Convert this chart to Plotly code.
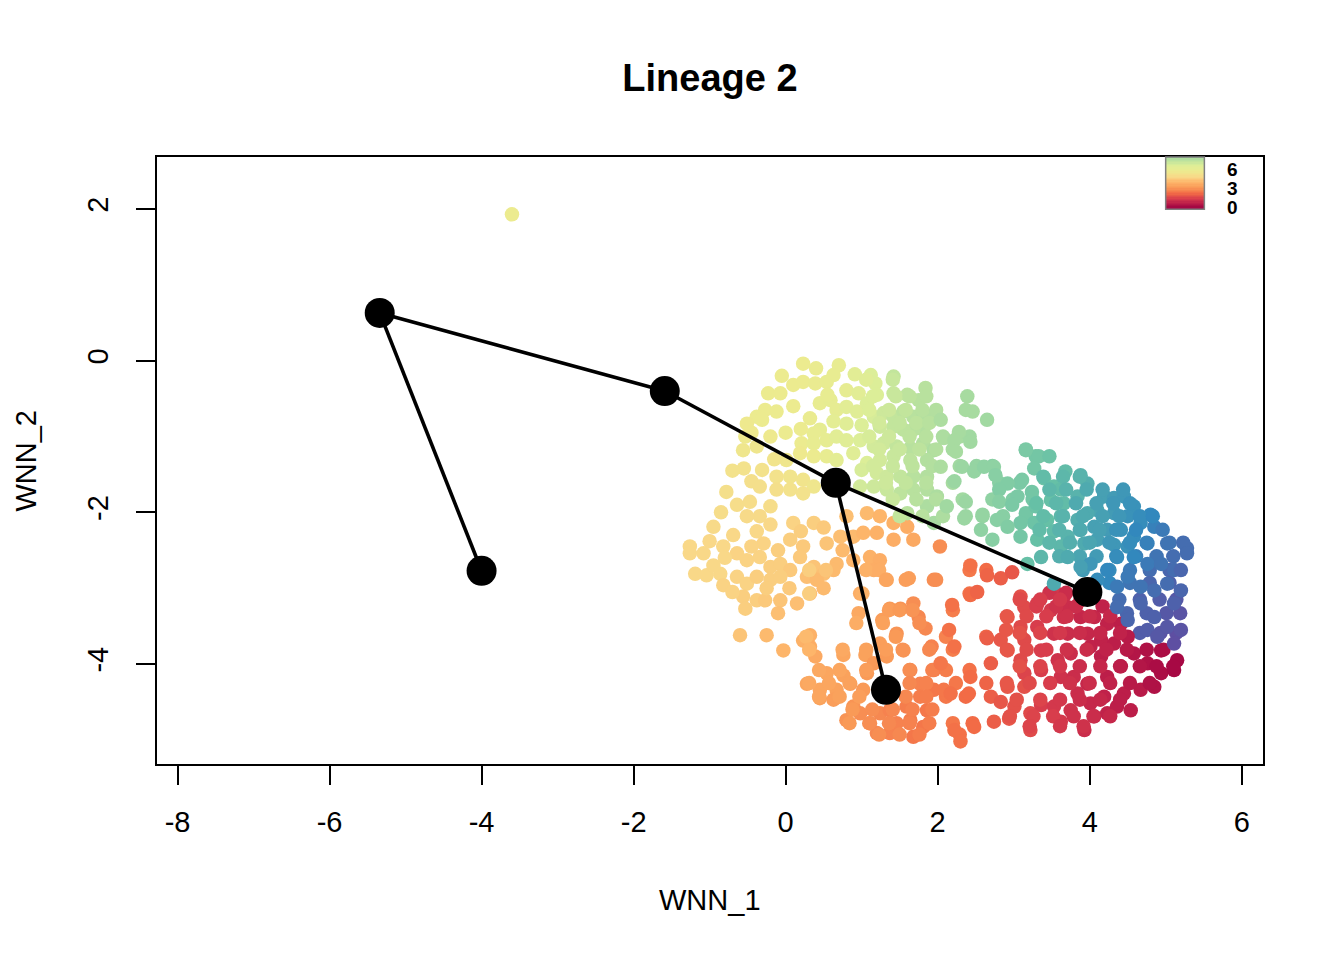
import numpy as np
import plotly.graph_objects as go

# cells: WNN_1, WNN_2 and the colour value (pseudotime-like)
cell_x = [
    # upper yellow / light green part
    0.23, 0.70, 0.91, 1.12, 1.42, 1.84, -0.23, -0.07, 0.10, 0.23, 0.39, 0.54, 0.63, 0.80, 0.96, 1.18, 1.20, 1.42, 1.60, 1.75,
    -0.27, -0.12, -0.38, -0.51, -0.31, 0.32, 0.45, 0.59, 0.67, 0.80, 0.94, 1.07, 1.16, 1.29, 1.42, 1.55, 1.68, 1.81, 1.95,
    1.81, 1.68, 1.55, 1.42, 1.24, 1.00, 0.80, 0.63, 0.45, 0.37, -0.53, -0.56, -0.38, 0.21, 0.37, 0.54, 0.67, 0.80, 0.98,
    1.16, 1.29, 1.46, 1.64, 1.81, 1.95, 0.01, 0.19, 0.37, 0.54, 0.67, 0.89, 1.07, 1.24, 1.42, 1.64, 1.86,
    -0.31, -0.45, -0.12, 0.06, 0.23, 0.37, -0.78, -0.34, -0.12, 0.06, 0.23, 1.00, 1.20, 1.33, 1.51, 1.68, 1.86,
    0.98, 1.16, 1.33, 1.51, 1.68, 1.86, 1.99, -0.64, -0.47, -0.20, -0.34, -0.51, -0.95, -0.69, -0.38, -0.20, 0.10, 0.37,
    1.07, 1.24, 1.42, 1.60, 1.60, 1.86, 1.95, -1.26, -1.00, -0.82, -0.29, 0.06, 0.23, 0.54, 0.72, 0.89, 1.02, 1.20, 1.42, 1.68, 2.03,
    -0.45, -0.20, 0.00, 0.10, -0.05, 0.40, 0.55, 0.20, -0.15, -0.55, -0.70, -0.85,
    1.06, 1.41, 1.15, 1.45, 1.63, 1.85, 1.10, 1.36, 1.58, 1.80, 1.98, 1.23, 1.50, 1.72, 1.89,
    1.10, 1.36, 1.63, 1.85, 2.07, 2.29, 2.42, 1.23, 1.50, 1.76, 1.98, 2.20, 1.15, 1.41, 1.67, 1.93, 2.29, 2.51, 2.72,
    1.32, 1.58, 1.85, 2.20, 2.81, 3.08, 1.41, 1.72, 1.98, 2.33, 2.72, 2.99, 3.25, 1.50, 1.80, 2.07, 2.37, 2.59, 2.86, 3.16,
    3.29, 3.16,
    # lower orange part
    -1.26, -1.08, -0.64, -0.51, -0.34, -0.20, -0.07, 0.06, 0.19, 0.37, 0.50, 0.67, 0.89, 1.11, 1.24, 1.16,
    -1.19, -1.04, -0.86, -0.82, -0.64, -0.51, -0.38, -0.20, -0.07, -0.56, -0.38, -0.53, -0.27, -0.07, -0.10, 0.15, 0.32,
    0.28, 0.41, 0.63, 0.98, 1.33, 1.62, 1.95, 1.37, 1.51, 1.68, 1.75, 1.84, 0.96, 1.27, 1.46, 1.92,
    -0.60, -0.25, -0.03, 0.23, 0.32, 0.32, 0.39, 0.76, 1.05, 1.24, 1.33, 1.55, 1.64, 1.77, 1.95,
    0.28, 0.45, 0.54, 0.76, 0.67, 0.45, 0.63, 0.85, 1.02, 1.07, 1.16, 0.89, 0.80, 0.98, 1.11, 1.24, 1.37, 1.46,
    1.59, 1.64, 1.68, 1.81, 1.86, 1.95, 1.77, 1.20, 1.37,
    -0.80, -0.45, -0.10, 0.20, 0.50, -0.95, -0.25, 0.05, -0.70, 0.50, 0.75, 0.80,
    0.31, 0.53, 1.06, 1.23, 2.42, 2.64, 1.32, 1.58, 1.98, 0.31, 1.01, 2.42, 1.36, 1.50, 1.67, 2.20, 0.93, 1.28, 1.76,
    0.27, 1.45, 2.11, 2.64, 0.31, 0.75, 1.06, 1.32, 1.54, 1.89, 2.20, 0.44, 0.71, 1.06, 1.63, 1.93, 2.11, 2.42,
    0.31, 0.57, 0.84, 1.63, 1.85, 2.24, 2.64, 0.44, 0.71, 0.97, 1.58, 1.85, 2.11, 2.37, 0.88, 1.14, 1.41, 1.67, 1.93,
    0.84, 1.10, 1.36, 1.63, 1.89, 2.20, 2.46, 1.23, 1.50, 1.76, 2.29,
    # green / teal / blue part
    2.39, 2.37, 2.46, 2.65, 2.28, 2.08, 2.22, 2.43, 2.24, 2.04, 2.04, 2.32, 2.22, 2.48, 2.61, 2.74, 2.76,
    3.16, 3.33, 3.47, 3.27, 3.11, 2.92, 2.81, 3.68, 3.88, 3.97, 3.40, 3.53, 3.62, 3.24, 3.05, 2.81, 2.37, 2.12,
    2.35, 2.59, 2.78, 2.98, 3.16, 3.29, 3.49, 3.66, 3.84, 4.19, 4.32, 4.45, 4.58, 4.80, 4.85, 4.67, 4.50, 4.32,
    4.10, 3.97, 3.84, 3.62, 3.44, 3.27, 3.09, 2.92, 2.57, 2.72, 3.09, 3.31, 3.53, 3.71, 3.88, 4.06, 4.23, 4.41,
    4.58, 4.76, 5.02, 5.28, 3.62, 3.93, 4.10, 4.32, 4.50,
    3.39, 3.65, 3.87, 3.47, 3.69, 3.96, 4.17, 4.44, 3.30, 3.56, 3.82, 4.09, 4.31, 4.53,
    3.39, 3.65, 3.91, 4.17, 4.39, 4.66, 4.83, 3.34, 3.60, 3.87, 4.13, 4.35, 4.61, 4.96,
    3.47, 3.74, 4.00, 4.26, 4.53, 4.75, 5.05, 5.23, 3.60, 3.87, 4.09, 4.35, 4.61, 4.88, 5.10,
    3.91, 4.26, 4.53, 4.79, 5.05, 4.26, 4.53, 4.79, 5.05, 4.39, 4.66, 4.92, 5.14,
    4.49, 4.75, 5.01, 5.19, 4.66, 4.93, 5.14,
    # lower right red / crimson part
    2.43, 2.65, 2.83, 2.98, 2.43, 2.52, 2.19, 2.15, 2.22, 2.04, 2.08, 2.17, 2.43, 2.41, 2.22, 2.30, 2.48, 2.74,
    2.94, 3.22, 2.70, 2.83, 2.92, 3.14, 3.01, 3.22, 2.70, 2.92, 2.65, 2.83, 2.92, 2.90, 3.09, 3.14, 3.09, 3.14,
    3.09, 3.14, 3.36, 3.36, 3.31, 3.31, 3.53, 3.66, 3.49, 3.66, 3.53, 3.71, 3.58, 3.75, 3.62, 3.79, 3.36, 3.53,
    3.62, 3.75, 3.93, 3.84, 3.97, 4.06, 4.23, 4.01, 4.19, 4.36, 4.54, 4.45, 4.67, 4.85, 4.94, 5.11, 5.15, 4.94,
    4.76, 4.58, 4.41, 4.23, 4.15, 4.01, 3.97, 4.15, 4.32, 4.50, 3.88, 4.06, 4.23, 4.41, 3.88, 3.71,
    3.47, 3.69, 3.30, 3.56, 3.82, 4.17,
    3.08, 3.35, 3.61, 2.91, 3.17, 3.43, 3.70, 4.00, 4.27, 3.08, 3.35, 3.61, 3.87, 4.14, 4.40,
    2.91, 3.17, 3.43, 3.70, 3.96, 4.22, 4.49, 4.75, 4.97, 3.08, 3.35, 3.61, 3.87, 4.14, 4.40, 4.66, 4.88, 5.10,
    2.91, 3.21, 3.48, 3.74, 4.00, 4.27, 4.53, 4.79, 3.04, 3.35, 3.61, 3.87, 4.14, 4.40,
    2.95, 3.26, 3.52, 3.79, 4.05, 4.27, 3.21, 3.61, 3.92,
    # blue / purple edge
    4.36, 4.50, 4.67, 4.85, 4.76, 5.02, 5.20, 5.11, 4.89, 5.11, 5.20, 5.02, 4.85, 4.67, 4.50, 4.36, 4.23, 4.10,
    4.01, 3.88, 3.71, 3.53, 3.36, 3.18, 4.36, 4.58, 4.76, 4.94, 5.11, 5.28, 5.20,
    # stray cell
    -3.60,
]
cell_y = [
    -0.04, -0.06, -0.18, -0.19, -0.21, -0.36, -0.43, -0.43, -0.32, -0.28, -0.30, -0.28, -0.19, -0.39, -0.43, -0.30, -0.45, -0.43, -0.45, -0.52,
    -0.65, -0.67, -0.74, -0.83, -0.78, -0.76, -0.56, -0.52, -0.65, -0.61, -0.67, -0.56, -0.74, -0.69, -0.74, -0.67, -0.74, -0.69, -0.74,
    -0.91, -0.91, -0.91, -0.87, -0.87, -0.85, -0.83, -0.80, -0.91, -0.96, -1.00, -1.18, -1.13, -1.09, -1.09, -1.05, -1.00, -1.05, -1.05,
    -1.13, -1.09, -1.13, -1.15, -1.09, -1.18, -1.31, -1.22, -1.26, -1.26, -1.31, -1.22, -1.35, -1.31, -1.26, -1.31, -1.31,
    -1.44, -1.59, -1.53, -1.53, -1.57, -1.66, -1.73, -1.66, -1.70, -1.70, -1.75, -1.44, -1.48, -1.53, -1.53, -1.53, -1.53,
    -1.66, -1.66, -1.70, -1.75, -1.70, -1.70, -1.79, -1.90, -1.86, -1.92, -2.05, -2.05, -2.19, -2.30, -2.25, -2.16, -2.14, -2.14,
    -2.01, -2.05, -2.14, -2.19, -2.01, -1.92, -2.14, -2.45, -2.38, -2.45, -2.41, -2.36, -2.45, -2.41, -2.32, -2.32, -2.27, -2.27, -2.36, -2.36, -2.45,
    -0.95, -1.00, -0.95, -0.60, -0.20, -0.10, -0.45, -0.90, -1.30, -1.42, -1.45, -2.00,
    -0.25, -0.25, -0.47, -0.47, -0.47, -0.47, -0.65, -0.65, -0.65, -0.65, -0.65, -0.82, -0.82, -0.82, -0.82,
    -1.00, -1.00, -1.00, -1.00, -1.00, -1.00, -1.00, -1.17, -1.17, -1.17, -1.17, -1.17, -1.39, -1.39, -1.39, -1.39, -1.39, -1.39, -1.39,
    -1.61, -1.61, -1.61, -1.61, -1.61, -1.61, -1.83, -1.83, -1.83, -1.83, -1.83, -1.83, -1.83, -2.05, -2.05, -2.05, -2.05, -2.05, -2.05, -2.05,
    -1.26, -1.17,
    -2.54, -2.54, -2.54, -2.63, -2.59, -2.72, -2.68, -2.76, -2.59, -2.72, -2.81, -2.68, -2.63, -2.59, -2.63, -2.76,
    -2.81, -2.83, -2.81, -2.96, -2.85, -2.94, -2.85, -2.89, -2.85, -3.11, -3.16, -3.27, -3.16, -3.16, -3.33, -3.20, -3.07,
    -2.85, -2.89, -2.76, -3.07, -2.89, -2.87, -2.89, -3.27, -3.27, -3.20, -3.38, -3.53, -3.33, -3.42, -3.60, -3.77,
    -3.62, -3.62, -3.82, -3.69, -3.62, -3.77, -3.90, -3.88, -3.88, -3.73, -3.90, -3.82, -4.08, -4.26, -4.08,
    -4.26, -4.34, -4.12, -4.15, -4.34, -4.45, -4.47, -4.26, -4.34, -4.12, -3.99, -4.56, -4.74, -4.65, -4.78, -4.65, -4.61, -4.78,
    -4.56, -4.74, -4.96, -4.83, -4.61, -4.34, -4.43, -4.91, -4.91,
    -2.60, -2.45, -2.50, -2.25, -2.20, -2.70, -3.00, -3.00, -3.05, -3.00, -2.50, -2.05,
    -2.76, -2.76, -2.76, -2.76, -2.76, -2.76, -2.89, -2.89, -2.89, -3.07, -3.07, -3.07, -3.29, -3.29, -3.29, -3.29, -3.46, -3.46, -3.46,
    -3.64, -3.64, -3.64, -3.64, -3.81, -3.81, -3.81, -3.81, -3.81, -3.81, -3.81, -4.08, -4.08, -4.08, -4.08, -4.08, -4.08, -4.08,
    -4.25, -4.25, -4.25, -4.25, -4.25, -4.25, -4.25, -4.43, -4.43, -4.43, -4.43, -4.43, -4.43, -4.43, -4.60, -4.60, -4.60, -4.60, -4.60,
    -4.78, -4.78, -4.78, -4.78, -4.78, -4.78, -4.78, -4.93, -4.93, -4.93, -4.93,
    -0.47, -0.65, -0.67, -0.78, -0.94, -1.02, -1.05, -1.07, -1.20, -0.78, -1.40, -1.40, -1.59, -1.46, -1.40, -1.40, -1.51,
    -1.18, -1.26, -1.26, -1.42, -1.57, -1.62, -1.70, -1.46, -1.51, -1.62, -1.55, -1.66, -1.70, -1.73, -1.79, -1.86, -1.86, -1.92,
    -2.08, -2.03, -2.10, -1.90, -2.01, -1.92, -1.84, -1.88, -1.79, -1.79, -1.81, -1.79, -1.92, -2.03, -2.19, -2.14, -2.05, -2.01,
    -1.97, -2.01, -2.10, -2.05, -2.10, -2.14, -2.14, -2.19, -2.23, -2.36, -2.32, -2.36, -2.25, -2.32, -2.23, -2.19, -2.23, -2.23,
    -2.32, -2.41, -2.41, -2.47, -2.45, -2.41, -2.36, -2.43, -2.45,
    -1.53, -1.53, -1.53, -1.70, -1.70, -1.70, -1.70, -1.70, -1.88, -1.88, -1.88, -1.88, -1.88, -1.88,
    -2.05, -2.05, -2.05, -2.05, -2.05, -2.05, -2.05, -2.23, -2.23, -2.23, -2.23, -2.23, -2.23, -2.23,
    -2.40, -2.40, -2.40, -2.40, -2.40, -2.40, -2.40, -2.40, -2.58, -2.58, -2.58, -2.58, -2.58, -2.58, -2.58,
    -2.76, -2.76, -2.76, -2.76, -2.76, -2.93, -2.93, -2.93, -2.93, -3.15, -3.15, -3.15, -3.15,
    -3.33, -3.33, -3.33, -3.33, -3.59, -3.59, -3.59,
    -2.70, -2.83, -2.87, -2.79, -3.09, -3.05, -3.22, -3.55, -3.77, -3.99, -4.34, -4.39, -4.17, -4.39, -4.87, -5.02, -4.83, -4.76,
    -4.72, -4.87, -4.43, -4.50, -4.30, -4.30, -4.56, -4.65, -3.99, -3.82, -3.66, -3.68, -3.38, -3.55, -3.11, -3.25, -3.51, -3.68,
    -3.95, -4.12, -4.08, -3.82, -3.51, -3.20, -3.03, -3.11, -3.29, -3.38, -3.60, -3.60, -3.95, -3.86, -4.17, -4.17, -4.54, -4.56,
    -4.76, -4.61, -4.87, -4.39, -4.26, -4.69, -4.65, -4.52, -4.43, -4.56, -4.61, -4.39, -4.34, -4.30, -4.12, -4.08, -3.95, -3.82,
    -3.99, -3.86, -4.03, -4.17, -3.90, -3.77, -3.60, -3.68, -3.73, -3.64, -3.38, -3.38, -3.47, -3.47, -3.16, -3.25,
    -3.06, -3.06, -3.24, -3.24, -3.24, -3.24,
    -3.15, -3.15, -3.15, -3.37, -3.37, -3.37, -3.37, -3.37, -3.37, -3.59, -3.59, -3.59, -3.59, -3.59, -3.59,
    -3.81, -3.81, -3.81, -3.81, -3.81, -3.81, -3.81, -3.81, -3.81, -4.03, -4.03, -4.03, -4.03, -4.03, -4.03, -4.03, -4.03, -4.03,
    -4.25, -4.25, -4.25, -4.25, -4.25, -4.25, -4.25, -4.25, -4.47, -4.47, -4.47, -4.47, -4.47, -4.47,
    -4.69, -4.69, -4.69, -4.69, -4.69, -4.69, -4.82, -4.82, -4.82,
    -3.25, -3.42, -3.20, -3.38, -3.55, -3.51, -3.55, -3.73, -3.64, -3.20, -3.03, -2.94, -3.03, -2.98, -2.85, -2.98, -2.76, -2.89,
    -2.68, -2.72, -2.59, -2.94, -2.59, -2.68, -2.59, -2.59, -2.68, -2.68, -2.76, -2.54, -2.76,
    1.93,
]
cell_t = [
    5.0, 5.2, 5.5, 5.8, 6.3, 6.5, 5.0, 5.0, 5.0, 5.0, 5.1, 5.2, 5.2, 5.3, 5.5, 5.8, 5.8, 6.2, 6.4, 6.5,
    5.0, 5.0, 5.0, 4.9, 5.0, 5.1, 5.2, 5.3, 5.3, 5.5, 5.6, 5.8, 5.9, 6.1, 6.3, 6.4, 6.5, 6.6, 6.6,
    6.6, 6.5, 6.4, 6.3, 6.1, 5.8, 5.6, 5.4, 5.3, 5.2, 4.9, 4.8, 4.8, 5.0, 5.2, 5.3, 5.5, 5.6, 5.8,
    6.0, 6.1, 6.3, 6.5, 6.6, 6.7, 4.8, 4.9, 5.0, 5.2, 5.4, 5.6, 5.8, 6.0, 6.2, 6.4, 6.6,
    4.6, 4.5, 4.6, 4.7, 4.7, 4.8, 4.5, 4.5, 4.5, 4.6, 4.6, 5.9, 6.0, 6.1, 6.3, 6.5, 6.6,
    6.0, 6.1, 6.2, 6.4, 6.5, 6.6, 6.7, 4.4, 4.4, 4.4, 4.3, 4.3, 4.3, 4.2, 4.2, 4.2, 4.1, 4.0,
    3.6, 3.5, 3.4, 3.3, 6.5, 6.7, 6.8, 4.2, 4.2, 4.2, 4.1, 4.0, 3.9, 3.8, 3.7, 3.6, 3.5, 3.4, 3.3, 3.2, 2.6,
    4.9, 4.9, 5.0, 5.0, 5.0, 5.1, 5.2, 5.0, 4.7, 4.6, 4.6, 4.4,
    5.6, 6.2, 5.8, 6.2, 6.4, 6.5, 5.8, 6.1, 6.3, 6.5, 6.6, 6.0, 6.3, 6.4, 6.5,
    5.9, 6.1, 6.4, 6.5, 6.7, 6.8, 6.9, 6.0, 6.2, 6.4, 6.6, 6.8, 6.0, 6.2, 6.4, 6.6, 6.9, 7.1, 7.3,
    6.1, 6.3, 6.5, 6.8, 7.3, 7.5, 6.2, 6.5, 6.6, 6.9, 7.2, 7.4, 7.6, 6.3, 6.5, 6.7, 7.0, 7.1, 7.3, 7.5,
    7.6, 7.5,
    4.2, 4.2, 4.1, 4.1, 4.1, 4.0, 4.0, 3.9, 3.9, 3.8, 3.7, 3.6, 3.5, 3.4, 3.3, 3.3,
    4.2, 4.2, 4.2, 4.1, 4.1, 4.1, 4.0, 4.0, 4.0, 4.0, 4.0, 4.0, 3.9, 3.8, 3.7, 3.7, 3.6,
    3.7, 3.6, 3.6, 3.3, 3.1, 2.9, 2.6, 2.8, 2.7, 2.6, 2.5, 2.5, 3.2, 2.9, 2.7, 2.4,
    3.8, 3.6, 3.5, 3.4, 3.4, 3.3, 3.2, 3.1, 3.0, 2.9, 2.8, 2.7, 2.5, 2.4, 2.3,
    3.1, 3.1, 3.1, 3.0, 3.0, 3.0, 2.9, 2.9, 2.8, 2.8, 2.8, 2.7, 2.7, 2.6, 2.6, 2.5, 2.4, 2.4,
    2.3, 2.3, 2.2, 2.2, 2.2, 2.2, 2.3, 2.5, 2.4,
    4.2, 4.1, 4.0, 4.0, 3.9, 4.2, 4.0, 3.9, 4.1, 3.6, 3.6, 3.7,
    4.0, 3.8, 3.4, 3.3, 2.2, 2.0, 3.1, 2.9, 2.6, 4.0, 3.4, 2.1, 2.9, 2.8, 2.7, 2.3, 3.3, 3.0, 2.6,
    3.6, 2.8, 2.4, 1.9, 3.5, 3.2, 3.0, 2.9, 2.7, 2.5, 2.3, 3.2, 3.1, 2.9, 2.6, 2.4, 2.3, 2.1,
    3.2, 3.1, 3.0, 2.5, 2.4, 2.2, 1.9, 3.1, 3.0, 2.9, 2.5, 2.3, 2.2, 2.0, 2.8, 2.6, 2.5, 2.4, 2.3,
    2.8, 2.6, 2.5, 2.4, 2.3, 2.2, 2.0, 2.6, 2.5, 2.3, 2.1,
    6.8, 6.8, 6.8, 6.9, 6.8, 6.7, 6.8, 6.9, 6.8, 6.7, 6.7, 7.0, 7.0, 7.1, 7.2, 7.2, 7.3,
    7.5, 7.6, 7.7, 7.6, 7.5, 7.4, 7.4, 7.9, 8.1, 8.2, 7.7, 7.8, 7.9, 7.6, 7.5, 7.3, 7.0, 6.9,
    7.0, 7.1, 7.3, 7.5, 7.6, 7.7, 7.8, 7.9, 8.1, 8.5, 8.6, 8.7, 8.8, 9.0, 9.1, 8.9, 8.8, 8.6,
    8.4, 8.3, 8.2, 8.0, 7.8, 7.7, 7.6, 7.4, 7.2, 7.3, 7.6, 7.8, 7.9, 8.1, 8.3, 8.5, 8.6, 8.8,
    8.9, 9.1, 9.3, 9.4, 8.0, 8.3, 8.5, 8.7, 8.8,
    7.9, 8.0, 8.1, 8.0, 8.1, 8.3, 8.5, 8.7, 7.8, 8.0, 8.3, 8.5, 8.7, 8.8,
    7.9, 8.1, 8.3, 8.5, 8.7, 8.9, 9.0, 7.9, 8.1, 8.3, 8.5, 8.8, 9.0, 9.2,
    8.0, 8.2, 8.4, 8.7, 8.9, 9.1, 9.3, 9.4, 8.2, 8.4, 8.6, 8.9, 9.1, 9.3, 9.4,
    8.6, 8.9, 9.2, 9.4, 9.5, 9.0, 9.3, 9.5, 9.6, 9.4, 9.6, 9.7, 9.8,
    9.5, 9.6, 9.8, 9.9, 9.7, 9.9, 10.0,
    2.1, 1.9, 1.8, 1.7, 2.0, 1.9, 2.1, 2.1, 2.1, 2.2, 2.2, 2.1, 2.0, 2.0, 2.1, 2.1, 2.0, 1.8,
    1.7, 1.5, 1.8, 1.7, 1.7, 1.6, 1.6, 1.5, 1.8, 1.7, 1.8, 1.7, 1.7, 1.7, 1.6, 1.5, 1.5, 1.5,
    1.5, 1.4, 1.3, 1.3, 1.3, 1.3, 1.2, 1.1, 1.2, 1.1, 1.1, 1.0, 1.1, 1.0, 1.1, 1.0, 1.3, 1.2,
    1.2, 1.1, 1.0, 1.0, 0.9, 0.9, 0.8, 0.9, 0.8, 0.7, 0.7, 0.7, 0.6, 0.4, 0.3, 0.2, 0.2, 0.3,
    0.4, 0.5, 0.6, 0.7, 0.7, 0.8, 0.9, 0.8, 0.7, 0.6, 0.9, 0.9, 0.8, 0.7, 1.0, 1.0,
    1.1, 1.0, 1.3, 1.1, 1.0, 0.8,
    1.5, 1.3, 1.2, 1.7, 1.5, 1.3, 1.1, 1.0, 0.9, 1.6, 1.4, 1.2, 1.0, 0.9, 0.8,
    1.7, 1.5, 1.3, 1.1, 1.0, 0.8, 0.6, 0.4, 0.3, 1.6, 1.4, 1.2, 1.0, 0.9, 0.7, 0.5, 0.3, 0.2,
    1.7, 1.5, 1.3, 1.1, 1.0, 0.8, 0.6, 0.4, 1.6, 1.4, 1.2, 1.0, 0.9, 0.7,
    1.6, 1.4, 1.3, 1.1, 1.0, 0.9, 1.4, 1.2, 1.1,
    9.4, 9.5, 9.5, 9.6, 9.7, 9.8, 9.9, 10.0, 9.8, 9.6, 9.5, 9.4, 9.4, 9.3, 9.2, 9.2, 9.0, 8.9,
    8.7, 8.5, 8.3, 8.3, 8.0, 7.8, 8.9, 9.0, 9.2, 9.3, 9.4, 9.4, 9.5,
    5.0,
]

# principal curve nodes (cluster centres) and the tree edges between them
node_x = [-5.34, -1.59, 0.66, 3.97, -4.00, 1.32]
node_y = [0.63, -0.40, -1.61, -3.05, -2.77, -4.34]
edges = [(0, 1), (1, 2), (2, 3), (0, 4), (2, 5)]

x_ticks = [-8, -6, -4, -2, 0, 2, 4, 6]
y_ticks = [-4, -2, 0, 2]
legend_labels = ["0", "3", "6"]

spectral = [
    [0.00, "#9E0142"], [0.08, "#C0224A"], [0.13, "#D83D4C"], [0.20, "#F26B46"],
    [0.28, "#F99A57"], [0.35, "#FDB56A"], [0.42, "#F9D888"], [0.50, "#ECEB8F"],
    [0.58, "#DCEE98"], [0.66, "#B3DF9F"], [0.72, "#8FD2A3"], [0.78, "#66C0A6"],
    [0.84, "#4BA5B1"], [0.90, "#3288BD"], [0.95, "#4A66AD"], [1.00, "#5E4FA2"],
]

font = "Liberation Sans, Arial, sans-serif"

fig = go.Figure()
fig.add_trace(go.Scatter(
    x=cell_x, y=cell_y, mode="markers",
    marker=dict(size=14.5, color=cell_t, colorscale=spectral, cmin=0, cmax=10, line=dict(width=0)),
    showlegend=False, hoverinfo="skip",
))

ex, ey = [], []
for a, b in edges:
    ex += [node_x[a], node_x[b], None]
    ey += [node_y[a], node_y[b], None]
fig.add_trace(go.Scatter(x=ex, y=ey, mode="lines", line=dict(color="black", width=3.6),
                         showlegend=False, hoverinfo="skip"))
fig.add_trace(go.Scatter(x=node_x, y=node_y, mode="markers",
                         marker=dict(size=30, color="black"), showlegend=False))

# colour key in the top-right corner
key_levels = np.linspace(0, 6.8, 40)
fig.add_trace(go.Heatmap(z=[[v] for v in key_levels], colorscale=spectral, zmin=0, zmax=10,
                         showscale=False, xaxis="x2", yaxis="y2", hoverinfo="skip"))
fig.add_shape(type="rect", xref="paper", yref="paper", x0=0.912, x1=0.947, y0=0.914, y1=1.0,
              line=dict(color="#808080", width=1.5))
for lab, yy in zip(legend_labels, [0.9176, 0.9473, 0.9786]):
    fig.add_annotation(x=0.972, y=yy, xref="paper", yref="paper", text="<b>%s</b>" % lab,
                       xanchor="center", yanchor="middle", showarrow=False,
                       font=dict(family=font, size=19, color="black"))

axis_common = dict(showgrid=False, zeroline=False, showline=True, mirror=True, linecolor="black",
                   linewidth=1.8, ticks="outside", ticklen=19, tickwidth=1.8, tickcolor="black",
                   tickfont=dict(family=font, size=29, color="black"))
fig.update_layout(
    width=1336, height=952,
    margin=dict(l=149, r=81, t=149, b=196),
    plot_bgcolor="white", paper_bgcolor="white",
    title=dict(text="<b>Lineage 2</b>", x=702 / 1336, xanchor="center", y=1 - 70 / 952, yanchor="middle",
               font=dict(family=font, size=38, color="black")),
    xaxis=dict(range=[-8.27, 6.28], tickvals=x_ticks, ticktext=[str(v) for v in x_ticks],
               ticklabelstandoff=12, **axis_common),
    yaxis=dict(range=[-5.318, 2.686], tickvals=y_ticks, ticktext=[str(v) for v in y_ticks],
               tickangle=-90, ticklabelstandoff=17, **axis_common),
    xaxis2=dict(domain=[0.912, 0.947], visible=False, anchor="y2"),
    yaxis2=dict(domain=[0.914, 1.0], visible=False, anchor="x2"),
)
fig.add_annotation(x=0.5, y=-0.224, xref="paper", yref="paper", text="WNN_1", showarrow=False,
                   xanchor="center", yanchor="middle", font=dict(family=font, size=29, color="black"))
fig.add_annotation(x=-0.1193, y=0.5, xref="paper", yref="paper", text="WNN_2", showarrow=False,
                   xanchor="center", yanchor="middle", textangle=-90,
                   font=dict(family=font, size=29, color="black"))

fig.write_html("out.html")
